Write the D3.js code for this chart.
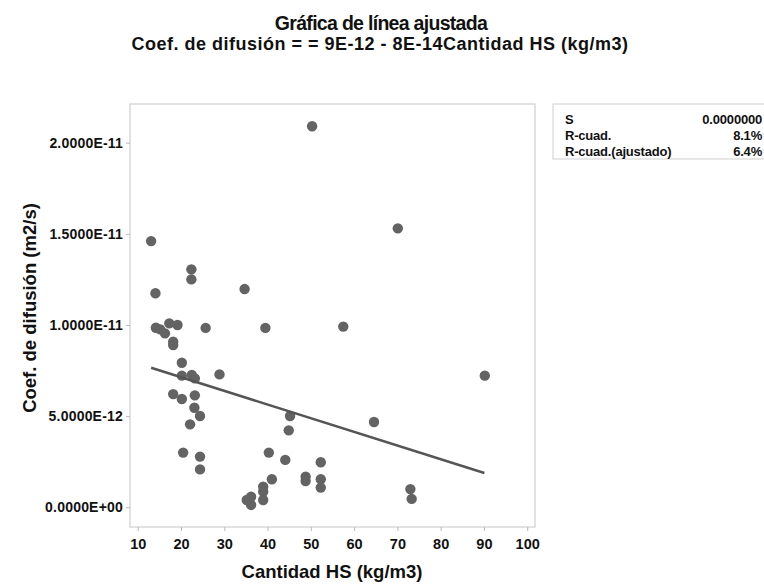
<!DOCTYPE html>
<html><head><meta charset="utf-8">
<script src="https://cdn.jsdelivr.net/npm/d3@7"></script>
<style>body{margin:0;background:#fff}svg{display:block}text{font-family:"Liberation Sans",Arial,sans-serif;font-weight:bold;fill:#111}</style>
</head><body><svg id="c" width="764" height="584"></svg>
<script>
const titleText = "Gráfica de línea ajustada";
const subtitleText = "Coef. de difusión = = 9E-12 - 8E-14Cantidad HS (kg/m3)";
const xLabel = "Cantidad HS (kg/m3)";
const yLabel = "Coef. de difusión (m2/s)";
const xTicks = [10,20,30,40,50,60,70,80,90,100];
const yTicks = [0,5e-12,1e-11,1.5e-11,2e-11];
const yTickLabels = ["0.0000E+00","5.0000E-12","1.0000E-11","1.5000E-11","2.0000E-11"];
const cantidadHS = [13.1,50.3,22.4,22.4,34.7,14.1,70.1,14.2,15.2,16.3,17.3,19.2,25.7,39.5,18.2,18.2,20.2,20.2,22.5,23.2,28.9,18.2,20.2,23.2,23.1,24.4,22.1,45.2,44.9,20.5,24.4,24.4,40.3,44.1,52.3,41.0,48.8,48.8,52.3,52.3,39.0,39.0,39.0,35.2,36.2,36.2,57.5,90.2,64.6,73.0,73.3];
const coefDifusion = [14.6,20.9,13.05,12.5,11.97,11.74,15.3,9.85,9.76,9.54,10.09,10.0,9.84,9.84,9.08,8.9,7.93,7.22,7.26,7.07,7.29,6.21,5.94,6.14,5.46,5.01,4.55,5.01,4.22,3.0,2.78,2.08,3.0,2.6,2.47,1.54,1.68,1.44,1.54,1.08,1.13,0.86,0.4,0.4,0.58,0.13,9.91,7.22,4.68,1.0,0.46].map(v=>v*1e-12);
const fitIntercept = 8.64e-12;
const fitSlope = -7.5e-14;
const fitRange = [13.1, 90.1];
const statLabels = ["S","R-cuad.","R-cuad.(ajustado)"];
const statValues = ["0.0000000","8.1%","6.4%"];

const svg = d3.select("#c");
const L=130, T=104, R=535, B=527;
const x = d3.scaleLinear().domain([8.22,101.8]).range([L,R]);
const y = d3.scaleLinear().domain([-1.08e-12,22.12e-12]).range([B,T]);

svg.append("text").attr("x",381).attr("y",30).attr("text-anchor","middle").style("font-size","19.5px").style("letter-spacing","-0.7px").text(titleText);
svg.append("text").attr("x",380).attr("y",50).attr("text-anchor","middle").style("font-size","18px").style("letter-spacing","0.5px").text(subtitleText);

svg.append("rect").attr("x",L).attr("y",T).attr("width",R-L).attr("height",B-T).attr("fill","none").attr("stroke","#cfcfcf").attr("stroke-width",1.2);

const tickFont = sel => sel.style("font-size","14px").style("font-family","'Liberation Sans',Arial,sans-serif").style("font-weight","bold").attr("fill","#111");

const yAxis = svg.append("g").attr("transform",`translate(${L},0)`)
  .call(d3.axisLeft(y).tickValues(yTicks).tickSize(4).tickPadding(3).tickFormat((d,i)=>yTickLabels[i]));
yAxis.select(".domain").remove();
yAxis.selectAll("line").attr("stroke","#bbb");
yAxis.selectAll("text").call(tickFont).style("letter-spacing","0.2px");

const xAxis = svg.append("g").attr("transform",`translate(0,${B})`)
  .call(d3.axisBottom(x).tickValues(xTicks).tickSize(4).tickPadding(8).tickFormat(d3.format("d")));
xAxis.select(".domain").remove();
xAxis.selectAll("line").attr("stroke","#bbb");
xAxis.selectAll("text").call(tickFont).style("font-size","14.5px");

svg.append("text").attr("x",332).attr("y",578).attr("text-anchor","middle").style("font-size","18.5px").text(xLabel);
svg.append("text").attr("transform",`translate(36,308) rotate(-90)`).attr("text-anchor","middle").style("font-size","18.5px").text(yLabel);

svg.append("g").selectAll("circle").data(cantidadHS).join("circle")
  .attr("cx",d=>x(d)).attr("cy",(d,i)=>y(coefDifusion[i])).attr("r",5.2).attr("fill","#636363");

const line = d3.line().x(d=>x(d)).y(d=>y(fitIntercept+fitSlope*d));
svg.append("path").datum(fitRange).attr("d",line).attr("fill","none").attr("stroke","#555").attr("stroke-width",2.5);

const bx=553, by=104;
svg.append("rect").attr("x",bx).attr("y",by).attr("width",215).attr("height",55).attr("fill","none").attr("stroke","#cfcfcf");
statLabels.forEach((s,i)=>{
  svg.append("text").attr("x",565).attr("y",124+i*16).style("font-size","13px").style("letter-spacing","-0.2px").text(s);
  svg.append("text").attr("x",762).attr("y",124+i*16).attr("text-anchor","end").style("font-size","13px").style("letter-spacing","-0.2px").text(statValues[i]);
});
</script></body></html>
